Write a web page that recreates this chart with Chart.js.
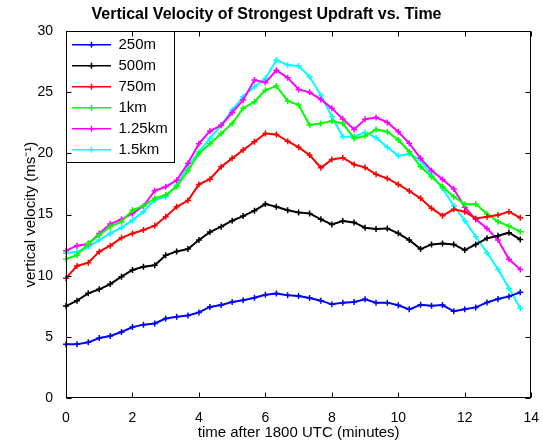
<!DOCTYPE html>
<html>
<head>
<meta charset="utf-8">
<script src="https://cdn.jsdelivr.net/npm/chart.js@4.4.1/dist/chart.umd.min.js"></script>
<style>
  body { margin: 0; background: #fff; }
  canvas { display: block; }
</style>
</head>
<body>
<canvas id="myChart" width="543" height="446"></canvas>
<script>
// sample times, minutes after 1800 UTC (every 20 s)
var tempo = [0, 0.33, 0.67, 1, 1.33, 1.67, 2, 2.33, 2.67, 3, 3.33, 3.67, 4, 4.33,
  4.67, 5, 5.33, 5.67, 6, 6.33, 6.67, 7, 7.33, 7.67, 8, 8.33, 8.67, 9, 9.33, 9.67,
  10, 10.33, 10.67, 11, 11.33, 11.67, 12, 12.33, 12.67, 13, 13.33, 13.67]

var w250 = [4.4, 4.4, 4.55, 4.9, 5.07, 5.4, 5.8, 6.0, 6.1, 6.5, 6.65, 6.75, 7.0, 7.45,
  7.6, 7.85, 8.0, 8.2, 8.45, 8.55, 8.4, 8.35, 8.18, 7.96, 7.66, 7.8, 7.85, 8.07, 7.8, 7.8,
  7.58, 7.25, 7.63, 7.55, 7.6, 7.09, 7.25, 7.41, 7.82, 8.09, 8.31, 8.64]
var w500 = [7.52, 7.96, 8.56, 8.89, 9.32, 9.92, 10.47, 10.74, 10.85, 11.67, 11.99, 12.18, 12.92, 13.57,
  14.01, 14.5, 14.88, 15.32, 15.86, 15.64, 15.35, 15.17, 15.1, 14.61, 14.2, 14.47, 14.36, 13.93, 13.82, 13.87,
  13.47, 12.92, 12.18, 12.56, 12.64, 12.56, 12.1, 12.56, 13.06, 13.27, 13.52, 12.97]
var w750 = [9.8, 10.8, 11.07, 11.97, 12.46, 13.1, 13.46, 13.74, 14.09, 14.83, 15.64, 16.15, 17.47, 17.9,
  18.91, 19.6, 20.28, 20.96, 21.64, 21.56, 21.0, 20.5, 19.87, 18.83, 19.51, 19.65, 19.1, 18.86, 18.29, 17.96,
  17.47, 16.93, 16.33, 15.51, 14.91, 15.43, 15.24, 14.69, 14.83, 14.96, 15.24, 14.74]
var w1000 = [11.37, 11.69, 12.65, 13.33, 14.01, 14.42, 15.37, 15.7, 16.33, 16.6, 17.3, 18.6, 20.0, 20.8,
  21.64, 22.46, 23.69, 24.23, 25.18, 25.51, 24.3, 23.96, 22.32, 22.46, 22.65, 22.46, 21.23, 21.42, 21.97, 21.78,
  21.1, 20.14, 18.91, 18.1, 17.28, 16.46, 15.84, 15.86, 15.05, 14.42, 14.06, 13.6]
var w1250 = [12.05, 12.46, 12.59, 13.46, 14.23, 14.61, 15.1, 15.7, 16.95, 17.28, 17.8, 19.2, 20.8, 21.83,
  22.3, 23.35, 24.37, 26.0, 25.8, 26.8, 26.2, 25.24, 25.0, 24.42, 23.69, 22.81, 21.97, 22.79, 22.95, 22.54,
  21.78, 20.83, 19.6, 18.6, 17.88, 17.09, 15.6, 14.61, 13.87, 12.92, 11.34, 10.52]
var w1500 = [11.83, 11.96, 12.37, 12.92, 13.46, 13.93, 14.55, 15.24, 16.19, 16.46, 17.4, 19.0, 20.14, 21.23,
  22.32, 23.55, 24.64, 25.45, 26.14, 27.64, 27.23, 27.15, 26.27, 24.77, 23.0, 21.37, 21.37, 21.72, 21.29, 20.5,
  19.81, 19.95, 19.46, 18.23, 17.15, 15.7, 14.5, 13.19, 11.88, 10.52, 8.97, 7.35]

var nomes = ["250m", "500m", "750m", "1km", "1.25km", "1.5km"]
var cores = ["#0000ff", "#000000", "#ff0000", "#00ff00", "#ff00ff", "#00ffff"]
var series = [w250, w500, w750, w1000, w1250, w1500]

var xTicks = [0, 2, 4, 6, 8, 10, 12, 14]
var yTicks = [0, 5, 10, 15, 20, 25, 30]

function pontos(valores) {
  return valores.map(function (v, i) { return { x: tempo[i], y: v } })
}

// box around the axes, inward ticks on all four sides, legend frame + markers
var moldura = {
  id: "moldura",
  afterLayout: function (chart) {
    // legend placed in chartArea loses its top when vertical, put it back
    var lg = chart.legend, a = chart.chartArea
    if (lg) {
      lg.top = a.top
      lg.bottom = a.bottom
    }
  },
  afterDraw: function (chart) {
    var ctx = chart.ctx
    var a = chart.chartArea
    var sx = chart.scales.x, sy = chart.scales.y
    var L = Math.round(a.left) + 0.5, R = Math.round(a.right) - 0.5
    var T = Math.round(a.top) + 0.5, B = Math.round(a.bottom) - 0.5
    ctx.save()
    ctx.strokeStyle = "#000"
    ctx.lineWidth = 1
    ctx.strokeRect(L, T, R - L, B - T)
    ctx.beginPath()
    xTicks.forEach(function (v) {
      var px = Math.round(sx.getPixelForValue(v)) + 0.5
      ctx.moveTo(px, B); ctx.lineTo(px, B - 5)
      ctx.moveTo(px, T); ctx.lineTo(px, T + 5)
    })
    yTicks.forEach(function (v) {
      var py = Math.round(sy.getPixelForValue(v)) + 0.5
      ctx.moveTo(L, py); ctx.lineTo(L + 5, py)
      ctx.moveTo(R, py); ctx.lineTo(R - 5, py)
    })
    ctx.stroke()

    var lg = chart.legend
    if (lg && lg.legendHitBoxes && lg.legendHitBoxes.length) {
      var hb = lg.legendHitBoxes
      var right = 0, bottom = 0
      hb.forEach(function (h) {
        right = Math.max(right, h.left + h.width)
        bottom = Math.max(bottom, h.top + h.height)
      })
      ctx.strokeRect(L, T, Math.round(right + 6) + 0.5 - L, Math.round(bottom + 5) + 0.5 - T)
      hb.forEach(function (h, i) {
        var cx = h.left + 19.5, cy = h.top + 7.5
        ctx.strokeStyle = cores[i]
        ctx.lineWidth = 1.5
        ctx.beginPath()
        ctx.moveTo(cx - 3, cy); ctx.lineTo(cx + 3, cy)
        ctx.moveTo(cx, cy - 3); ctx.lineTo(cx, cy + 3)
        ctx.stroke()
      })
    }
    ctx.restore()
  }
}

Chart.defaults.color = "#000"
Chart.defaults.font.family = "'Liberation Sans', Arial, Helvetica, sans-serif"

var ctx = document.getElementById("myChart").getContext("2d")
var myChart = new Chart(ctx, {
  type: "line",
  data: {
    datasets: series.map(function (s, i) {
      return {
        label: nomes[i],
        data: pontos(s),
        borderColor: cores[i],
        backgroundColor: cores[i],
        borderWidth: 2,
        pointStyle: "cross",
        pointRadius: 3,
        pointBorderWidth: 1.5,
        pointBorderColor: cores[i],
        tension: 0,
        fill: false,
        clip: 4,
      }
    }),
  },
  options: {
    responsive: false,
    animation: false,
    layout: { padding: { left: 0, right: 10, top: 0, bottom: 0 } },
    plugins: {
      title: {
        display: true,
        text: "Vertical Velocity of Strongest Updraft vs. Time",
        font: { size: 16, weight: "bold" },
        color: "#000",
        padding: { top: 5, bottom: 7 },
      },
      legend: {
        position: "chartArea",
        align: "start",
        labels: {
          usePointStyle: true,
          pointStyle: "line",
          pointStyleWidth: 39,
          font: { size: 15 },
          color: "#000",
          padding: 6,
        },
      },
      tooltip: { enabled: false },
    },
    scales: {
      x: {
        type: "linear",
        min: 0,
        max: 14,
        afterBuildTicks: function (s) { s.ticks = xTicks.map(function (v) { return { value: v } }) },
        afterFit: function (s) { s.height = 48 },
        grid: { display: false },
        border: { display: false },
        ticks: { font: { size: 14 }, padding: 4, maxRotation: 0 },
        title: {
          display: true,
          text: "time after 1800 UTC (minutes)",
          font: { size: 15 },
          padding: { top: 0, bottom: 4 },
        },
      },
      y: {
        min: 0,
        max: 30,
        afterBuildTicks: function (s) { s.ticks = yTicks.map(function (v) { return { value: v } }) },
        afterFit: function (s) { s.width = 66 },
        grid: { display: false },
        border: { display: false },
        ticks: { font: { size: 14 }, padding: 5 },
        title: {
          display: true,
          text: "vertical velocity (ms\u207B\u00B9)",
          font: { size: 15 },
          padding: { top: 22, bottom: 0 },
        },
      },
    },
  },
  plugins: [moldura],
})
</script>
</body>
</html>
